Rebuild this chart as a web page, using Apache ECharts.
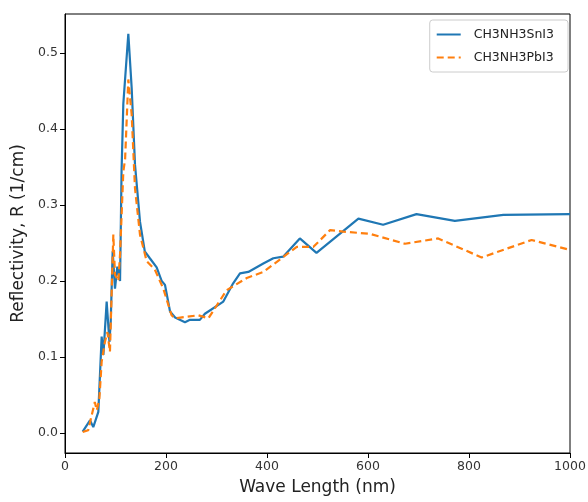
<!DOCTYPE html>
<html>
<head>
<meta charset="utf-8">
<script src="https://cdn.jsdelivr.net/npm/echarts@6/dist/echarts.min.js"></script>
<style>html,body{margin:0;padding:0;background:#fff}#c{width:588px;height:502px}</style>
</head>
<body>
<div id="c"></div>
<script>
const snName = 'CH3NH3SnI3';
const pbName = 'CH3NH3PbI3';
const snX = [35,49.5,56,66,72.6,76,82.5,88,90.5,94.4,99,103.6,109,112,115.5,125.4,132,138.6,148.5,158,168,181.5,191.5,198,208,218,237.6,247.5,267,277,313.5,333,346.5,363,392.7,412.5,432,465,498,581,630,696,772,868,1000];
const snY = [0.002,0.017,0.008,0.028,0.127,0.103,0.173,0.12,0.146,0.239,0.19,0.219,0.2,0.344,0.433,0.525,0.454,0.353,0.278,0.239,0.23,0.218,0.2,0.195,0.16,0.152,0.146,0.149,0.149,0.157,0.173,0.197,0.21,0.212,0.223,0.23,0.232,0.256,0.237,0.282,0.274,0.288,0.279,0.287,0.288];
const pbX = [35,46,59,63,68,72.6,79,84,89,95.7,99,105.6,109,115.5,119,125.4,132,138.6,148.5,161.8,178,194.7,211,218,241,264,284,320,360,392.7,429,459,492,525,551,604,673,739,825,924,1000];
const pbY = [0.0015,0.004,0.041,0.03,0.045,0.094,0.12,0.133,0.107,0.261,0.208,0.2,0.235,0.344,0.36,0.465,0.419,0.322,0.261,0.226,0.215,0.19,0.155,0.151,0.153,0.155,0.151,0.188,0.204,0.212,0.23,0.245,0.245,0.267,0.265,0.262,0.249,0.256,0.231,0.254,0.241];
const yTicks = [0,0.1,0.2,0.3,0.4,0.5];
const xTicks = [0,200,400,600,800,1000];

const zip = (a,b) => a.map((v,i)=>[v,b[i]]);
const font = 'DejaVu Sans';
const chart = echarts.init(document.getElementById('c'), null, {renderer:'canvas'});
chart.setOption({
  animation:false,
  backgroundColor:'#fff',
  grid:{left:65,right:18,top:14,bottom:49,show:true,borderColor:'#000',borderWidth:1,backgroundColor:'transparent',
        containLabel:false,outerBoundsMode:'none'},
  legend:{
    right:20, top:20, orient:'vertical', itemWidth:24, itemHeight:12, itemGap:10,
    backgroundColor:'#fff', borderColor:'#cccccc', borderWidth:1, borderRadius:3,
    padding:[8,14,8,6],
    textStyle:{fontFamily:font,fontSize:12.5,color:'#222',padding:[0,0,0,8]},
    itemStyle:{opacity:0},
    data:[snName,pbName]
  },
  xAxis:{
    type:'value', min:0, max:1000, interval:200,
    name:'Wave Length (nm)', nameLocation:'middle', nameGap:26,
    nameTextStyle:{fontFamily:font,fontSize:17,color:'#222'},
    axisLine:{show:true,onZero:false,lineStyle:{color:'#000',width:1}},
    axisTick:{show:true,length:5,lineStyle:{color:'#000'}},
    axisLabel:{fontFamily:font,fontSize:12.5,color:'#333',margin:7,formatter:v=>String(v)},
    splitLine:{show:false}
  },
  yAxis:{
    type:'value', min:-0.026, max:0.551,
    name:'Reflectivity, R (1/cm)', nameLocation:'middle', nameGap:38,
    nameTextStyle:{fontFamily:font,fontSize:17,color:'#222'},
    axisLine:{show:true,onZero:false,lineStyle:{color:'#000',width:1}},
    axisTick:{show:true,length:5,lineStyle:{color:'#000'},customValues:yTicks},
    axisLabel:{fontFamily:font,fontSize:12.5,color:'#333',margin:7,customValues:yTicks,formatter:v=>v.toFixed(1)},
    splitLine:{show:false}
  },
  series:[
    {name:snName,type:'line',data:zip(snX,snY),showSymbol:false,symbol:'none',
     lineStyle:{color:'#1f77b4',width:2.2},itemStyle:{color:'#1f77b4'}},
    {name:pbName,type:'line',data:zip(pbX,pbY),showSymbol:false,symbol:'none',
     lineStyle:{color:'#ff7f0e',width:2.2,type:[7,4]},itemStyle:{color:'#ff7f0e'}}
  ]
});
</script>
</body>
</html>
